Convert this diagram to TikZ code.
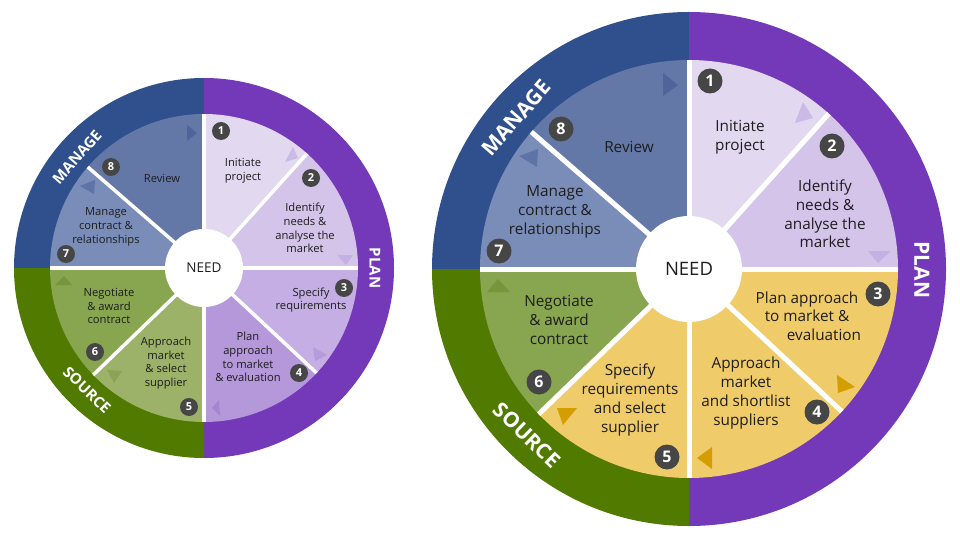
\documentclass[tikz,border=0pt]{standalone}
\usepackage{fontspec}
\setmainfont{Open Sans}
\usetikzlibrary{calc}
\definecolor{cmanage}{RGB}{47,80,140}
\definecolor{cplan}{RGB}{115,57,185}
\definecolor{csource}{RGB}{80,122,0}
\definecolor{creview}{RGB}{100,120,168}
\definecolor{ccontract}{RGB}{122,140,184}
\definecolor{cinit}{RGB}{226,216,240}
\definecolor{cident}{RGB}{212,196,234}
\definecolor{cspec}{RGB}{196,174,227}
\definecolor{cplanapp}{RGB}{180,152,218}
\definecolor{capp}{RGB}{157,178,105}
\definecolor{cnego}{RGB}{136,165,80}
\definecolor{cyel}{RGB}{240,203,106}
\definecolor{cnum}{RGB}{70,70,70}
\definecolor{ctxt}{RGB}{30,30,30}
\definecolor{trev}{RGB}{78,100,155}
\definecolor{tcon}{RGB}{94,115,166}
\definecolor{tinit}{RGB}{203,185,230}
\definecolor{tident}{RGB}{197,176,227}
\definecolor{tspec}{RGB}{180,155,219}
\definecolor{tplanapp}{RGB}{163,134,209}
\definecolor{tapp}{RGB}{138,163,85}
\definecolor{tnego}{RGB}{117,150,58}
\definecolor{tgold}{RGB}{212,158,0}
\newcommand\piesec[5]{\fill[#5] (#1) -- ++({-(#3)}:#2) arc[start angle={-(#3)}, end angle={-(#4)}, radius=#2] -- cycle;}
\tikzset{
  divL/.style={white, line width=3.5pt},
  divR/.style={white, line width=5pt},
  numL/.style={circle, fill=cnum, text=white, inner sep=0pt, minimum size=18pt, font=\bfseries\fontsize{11}{11}\selectfont},
  numR/.style={circle, fill=cnum, text=white, inner sep=0pt, minimum size=25pt, font=\bfseries\fontsize{16}{16}\selectfont},
  txtL/.style={align=center, text=ctxt, inner sep=0pt, font=\fontsize{11.2}{13.8}\selectfont},
  txtR/.style={align=center, text=ctxt, inner sep=0pt, font=\fontsize{15.3}{18.7}\selectfont},
  bandL/.style={text=white, inner sep=0pt, font=\bfseries\fontsize{15}{15}\selectfont},
  bandR/.style={text=white, inner sep=0pt, font=\bfseries\fontsize{21}{21}\selectfont},
  needL/.style={text=ctxt, inner sep=0pt, font=\fontsize{13.5}{13.5}\selectfont},
  needR/.style={text=ctxt, inner sep=0pt, font=\fontsize{18.5}{18.5}\selectfont},
}
\begin{document}
\begin{tikzpicture}[x=1pt,y=-1pt]
\useasboundingbox (0,0) rectangle (960,537);
\fill[white] (0,0) rectangle (960,537);
% ================= LEFT =================
\coordinate (L) at (204,268);
\piesec{L}{190}{90}{180}{cmanage}
\piesec{L}{190}{-90}{90}{cplan}
\piesec{L}{190}{180}{270}{csource}
\piesec{L}{154}{48}{90}{cinit}
\piesec{L}{154}{0}{48}{cident}
\piesec{L}{154}{-43}{0}{cspec}
\piesec{L}{154}{-90}{-43}{cplanapp}
\piesec{L}{154}{-136}{-90}{capp}
\piesec{L}{154}{-180}{-136}{cnego}
\piesec{L}{154}{139}{180}{ccontract}
\piesec{L}{154}{90}{139}{creview}
\foreach \a in {90,48,0,-43,-90,-136,180,139}
  \draw[divL] (L) -- ++({-(\a)}:154);
\fill[white] (L) circle[radius=39];
% triangles
\fill[trev] (187,125) -- (197,133) -- (187,141) -- cycle;
\fill[tcon] (80,186) -- (95,180) -- (94,194) -- cycle;
\fill[tinit] (293,147) -- (285,162) -- (298,158) -- cycle;
\fill[tident] (337,255) -- (353,255) -- (346,265) -- cycle;
\fill[tspec] (313,347) -- (327,355) -- (315,361) -- cycle;
\fill[tplanapp] (219,400) -- (212,408) -- (220,416) -- cycle;
\fill[tapp] (107,370) -- (122,371) -- (114,383) -- cycle;
\fill[tnego] (55,285) -- (72,285) -- (64,276) -- cycle;
% band labels
\node[bandL, rotate=48.8] (lmanage) at (77,157) {MANAGE};
\node[bandL, rotate=-90] (lplan) at (375,268) {PLAN};
\node[bandL, rotate=-44] (lsource) at (87,390) {SOURCE};
% texts
\node[needL] (lneed) at (204,268) {NEED};
\node[txtL] (lt1) at (243,171) {Initiate\\project};
\node[txtL] (lt2) at (305,228) {Identify\\needs \&\\analyse the\\market};
\node[txtL] (lt3) at (311,300) {Specify\\requirements};
\node[txtL] (lt4) at (248,357) {Plan\\approach\\to market\\\& evaluation};
\node[txtL] (lt5) at (166,363) {Approach\\market\\\& select\\supplier};
\node[txtL] (lt6) at (109,306) {Negotiate\\\& award\\contract};
\node[txtL] (lt7) at (106,227) {Manage\\contract \&\\relationships};
\node[txtL] (lt8) at (162,178) {Review};
% numbers
\node[numL] (ln1) at (221,131) {1};
\node[numL] (ln2) at (311,178) {2};
\node[numL] (ln3) at (344,288) {3};
\node[numL] (ln4) at (299,373) {4};
\node[numL] (ln5) at (189,407) {5};
\node[numL] (ln6) at (95,352) {6};
\node[numL] (ln7) at (66,254) {7};
\node[numL] (ln8) at (111,167) {8};
% ================= RIGHT =================
\coordinate (R) at (689,269);
\piesec{R}{257}{90}{180}{cmanage}
\piesec{R}{257}{-90}{90}{cplan}
\piesec{R}{257}{180}{270}{csource}
\piesec{R}{209}{48}{90}{cinit}
\piesec{R}{209}{0}{48}{cident}
\piesec{R}{209}{-43}{0}{cyel}
\piesec{R}{209}{-90}{-43}{cyel}
\piesec{R}{209}{-136}{-90}{cyel}
\piesec{R}{209}{-180}{-136}{cnego}
\piesec{R}{209}{139}{180}{ccontract}
\piesec{R}{209}{90}{139}{creview}
\foreach \a in {90,48,0,-43,-90,-136,180,139}
  \draw[divR] (R) -- ++({-(\a)}:209);
\fill[white] (R) circle[radius=53];
% triangles
\fill[trev] (663,73) -- (678,85) -- (663,96) -- cycle;
\fill[tcon] (519,156) -- (538,149) -- (537,167) -- cycle;
\fill[tinit] (803,102) -- (795,123) -- (813,118) -- cycle;
\fill[tident] (868,251) -- (891,251) -- (878,263) -- cycle;
\fill[tgold] (837,375) -- (855,387) -- (838,393) -- cycle;
\fill[tgold] (712,447) -- (697,458) -- (712,469) -- cycle;
\fill[tgold] (557,408) -- (577,408) -- (563,425) -- cycle;
\fill[tnego] (487,292) -- (510,292) -- (498,279) -- cycle;
% band labels
\node[bandR, rotate=48.9] (rmanage) at (516,118) {MANAGE};
\node[bandR, rotate=-90] (rplan) at (922,270) {PLAN};
\node[bandR, rotate=-44] (rsource) at (527,435) {SOURCE};
% texts
\node[needR] (rneed) at (689,269) {NEED};
\node[txtR] (rt1) at (740,137) {Initiate\\project};
\node[txtR] (rt2) at (825,214) {Identify\\needs \&\\analyse the\\market};
\node[txtR] (rt3) at (807,316) {Plan approach\\to market \&\\\hspace*{34pt}evaluation};
\node[txtR] (rt4) at (746,393) {Approach\\market\\and shortlist\\suppliers};
\node[txtR] (rt5) at (630,400) {Specify\\requirements\\and select\\supplier};
\node[txtR] (rt6) at (559,320) {Negotiate\\\& award\\contract};
\node[txtR] (rt7) at (555,212) {Manage\\contract \&\\relationships};
\node[txtR] (rt8) at (629,147) {Review};
% numbers
\node[numR] (rn1) at (710,81) {1};
\node[numR] (rn2) at (832,146) {2};
\node[numR] (rn3) at (878,294) {3};
\node[numR] (rn4) at (817,412) {4};
\node[numR] (rn5) at (667,457) {5};
\node[numR] (rn6) at (539,382) {6};
\node[numR] (rn7) at (499,251) {7};
\node[numR] (rn8) at (561,129) {8};
\end{tikzpicture}
\end{document}
